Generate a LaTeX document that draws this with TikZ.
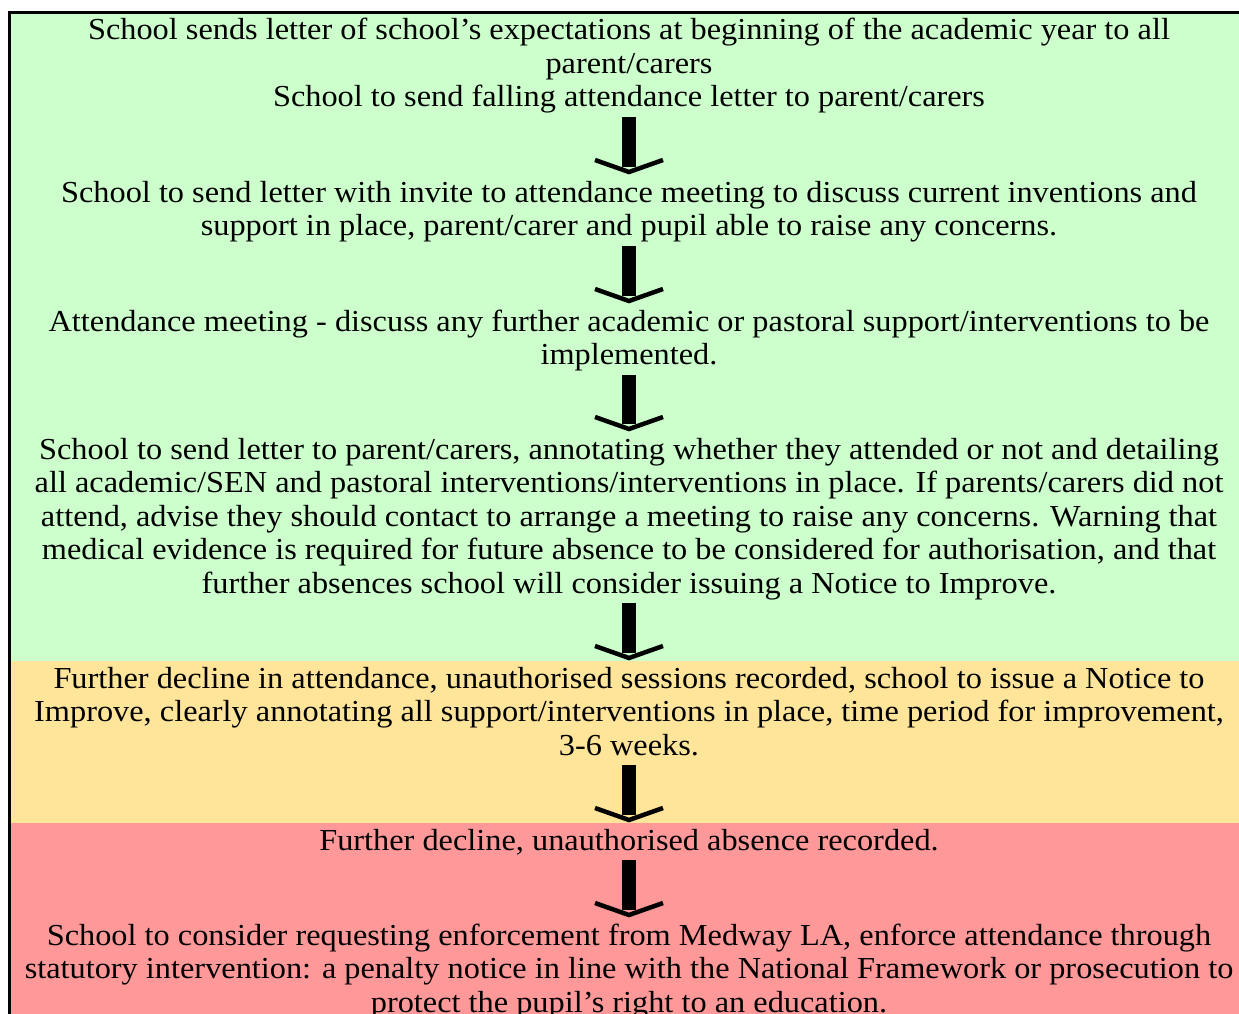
\documentclass[tikz,border=0pt]{standalone}
\usepackage{fontspec}
\setmainfont{Liberation Serif}[FakeStretch=1.06]
\definecolor{greenband}{HTML}{CCFFCC}
\definecolor{yellowband}{HTML}{FFE599}
\definecolor{redband}{HTML}{FF9999}
\newcommand\Tstr{\rule{0pt}{30pt}}
\newcommand\Bstr{\rule[-10pt]{0pt}{10pt}}
\tikzset{
  stepbox/.style={anchor=north, inner sep=0pt, outer sep=0pt, align=center,
    font=\fontsize{30.5}{33.5}\selectfont},
  stem/.style={line width=14pt, shorten >=5pt},
  barb/.style={line width=4.5pt, line join=miter},
}
\newcommand\flowarrow[2]{%
  \draw[stem] (#1.south) -- (#2.north);
  \draw[barb] ([shift={(-34pt,12pt)}]#2.north) -- (#2.north) -- ([shift={(34pt,12pt)}]#2.north);
}
\begin{document}
\begin{tikzpicture}
\useasboundingbox (0pt,0pt) rectangle (1239pt,-1014pt);
\fill[greenband] (11pt,-13.5pt) rectangle (1239pt,-661pt);
\fill[yellowband] (11pt,-661pt) rectangle (1239pt,-823pt);
\fill[redband] (11pt,-823pt) rectangle (1239pt,-1014pt);
\draw[line width=2.7pt] (9.7pt,-1014pt) -- (9.7pt,-12.2pt) -- (1239pt,-12.2pt);

\node[stepbox] (b1) at (629pt,-10pt) {\Tstr School sends letter of school’s expectations at beginning of the academic year to all\\
parent/carers\\
School to send falling attendance letter to parent/carers\Bstr};
\node[stepbox] (b2) at (629pt,-172pt) {\Tstr School to send letter with invite to attendance meeting to discuss current inventions and\\
support in place, parent/carer and pupil able to raise any concerns.\Bstr};
\node[stepbox] (b3) at (629pt,-301pt) {\Tstr Attendance meeting - discuss any further academic or pastoral support/interventions to be\\
implemented.\Bstr};
\node[stepbox] (b4) at (629pt,-429pt) {\Tstr School to send letter to parent/carers, annotating whether they attended or not and detailing\\
all academic/SEN and pastoral interventions/interventions in place. If parents/carers did not\\
attend, advise they should contact to arrange a meeting to raise any concerns. Warning that\\
medical evidence is required for future absence to be considered for authorisation, and that\\
further absences school will consider issuing a Notice to Improve.\Bstr};
\node[stepbox] (b5) at (629pt,-658pt) {\Tstr Further decline in attendance, unauthorised sessions recorded, school to issue a Notice to\\
Improve, clearly annotating all support/interventions in place, time period for improvement,\\
3-6 weeks.\Bstr};
\node[stepbox] (b6) at (629pt,-820pt) {\Tstr Further decline, unauthorised absence recorded.\Bstr};
\node[stepbox] (b7) at (629pt,-915pt) {\Tstr School to consider requesting enforcement from Medway LA, enforce attendance through\\
statutory intervention: a penalty notice in line with the National Framework or prosecution to\\
protect the pupil’s right to an education.\Bstr};

\flowarrow{b1}{b2}
\flowarrow{b2}{b3}
\flowarrow{b3}{b4}
\flowarrow{b4}{b5}
\flowarrow{b5}{b6}
\flowarrow{b6}{b7}
\end{tikzpicture}
\end{document}
